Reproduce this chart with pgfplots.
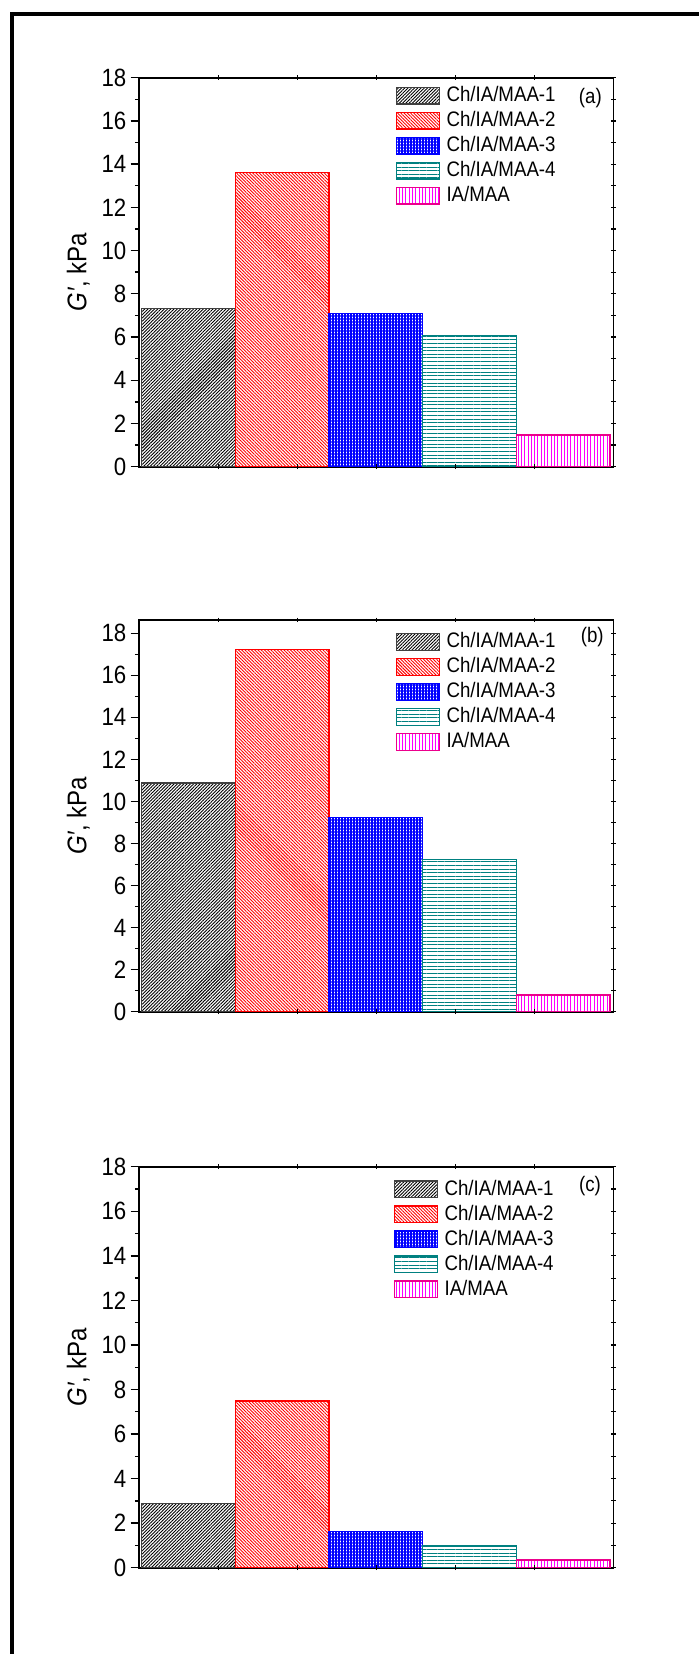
\documentclass[border=0pt]{standalone}
\usepackage{fontspec}
\setmainfont{Liberation Sans}[FakeStretch=0.89]
\usepackage{pgfplots}
\pgfplotsset{compat=1.18}
\usetikzlibrary{patterns.meta}
\definecolor{tealc}{RGB}{0,128,128}
\definecolor{edgegray}{RGB}{64,64,64}
\newcommand\tickfont{\fontsize{12.5}{14}\selectfont}
\newcommand\legfont{\fontsize{10.5}{12}\selectfont}
\newcommand\labfont{\fontsize{13.5}{15}\selectfont}
\pgfplotsset{
 mainax/.style={
  scale only axis, width=237.3pt, xmin=0, xmax=6, ymin=0,
  xtick=\empty, ytick={0,2,...,18}, minor y tick num=1, ytick pos=left,
  tick align=outside, major tick length=4.15pt, minor tick length=2pt,
  tick style={black, line width=0.7pt},
  axis line style={line width=0.9pt, black},
  /pgf/number format/assume math mode=true,
  yticklabel style={font=\tickfont, inner sep=0pt, anchor=east, xshift=-2pt},
  ylabel={\textit{G′}, kPa},
  ylabel style={font=\labfont, at={(axis description cs:-0.128,0.5)}, anchor=center},
  ybar, bar width=1.184, bar shift=0pt,
  legend cell align=left,
  legend image code/.code={\draw[##1] (0pt,-4.175pt) rectangle (21.35pt,4.175pt);},
  legend style={draw=none, fill=none, inner sep=0pt, outer sep=0pt, row sep=3.5pt, column sep=0pt, anchor=north west, font=\legfont, nodes={inner xsep=3.35pt, inner ysep=0pt, text height=7.2pt, text depth=1.3pt}},
 },
 ovax/.style={scale only axis, width=237.3pt, xmin=0, xmax=6, ymin=0,
  axis line style={draw=none}, xtick={1,...,5}, xticklabels={}, xtick pos=both,
  ytick={0,...,18}, yticklabels={}, ytick pos=right, tick align=center,
  major tick length=2.4pt, tick style={black, line width=0.6pt}},
 s1/.style={draw=edgegray, line width=0.65pt, pattern={Lines[angle=45,distance=1.15pt,line width=0.45pt]}, pattern color=black},
 s2/.style={draw=red, line width=0.65pt, pattern={Lines[angle=-45,distance=1.15pt,line width=0.45pt]}, pattern color=red},
 s3/.style={draw=blue, line width=0.65pt, pattern={Hatch[distance=1.5pt,line width=0.75pt]}, pattern color=blue},
 s4/.style={draw=tealc, line width=0.65pt, pattern={Lines[angle=0,distance=1.8pt,line width=0.5pt]}, pattern color=tealc},
 s5/.style={draw=magenta, line width=0.65pt, pattern={Lines[angle=90,distance=1.65pt,line width=0.45pt]}, pattern color=magenta},
}
\begin{document}
\begin{tikzpicture}
\useasboundingbox (0,0) rectangle (349.5pt,827pt);
\draw[line width=2.2pt, black] (6pt,-10pt) -- (6pt,820.1pt) -- (360pt,820.1pt);
% (a)
\begin{axis}[mainax, at={(69.5pt,593.65pt)}, anchor=south west, height=194.5pt, ymax=18,
  legend style={at={(axis description cs:0.5412,0.977)}}]
\addplot[s1] coordinates {(0.627,7.33)};
\addplot[s2] coordinates {(1.811,13.6)};
\addplot[s3] coordinates {(2.995,7.10)};
\addplot[s4] coordinates {(4.179,6.06)};
\addplot[s5] coordinates {(5.363,1.47)};
\legend{Ch/IA/MAA-1,Ch/IA/MAA-2,Ch/IA/MAA-3,Ch/IA/MAA-4,IA/MAA}
\node[font=\legfont, anchor=east, inner sep=0pt] at (axis description cs:0.976,0.947) {(a)};
\end{axis}
\begin{axis}[ovax, at={(69.5pt,593.65pt)}, anchor=south west, height=194.5pt, ymax=18]
\end{axis}
% (b)
\begin{axis}[mainax, at={(69.5pt,321.15pt)}, anchor=south west, height=195.85pt, ymax=18.63,
  legend style={at={(axis description cs:0.5412,0.967)}}]
\addplot[s1] coordinates {(0.627,10.87)};
\addplot[s2] coordinates {(1.811,17.24)};
\addplot[s3] coordinates {(2.995,9.24)};
\addplot[s4] coordinates {(4.179,7.24)};
\addplot[s5] coordinates {(5.363,0.79)};
\legend{Ch/IA/MAA-1,Ch/IA/MAA-2,Ch/IA/MAA-3,Ch/IA/MAA-4,IA/MAA}
\node[font=\legfont, anchor=east, inner sep=0pt] at (axis description cs:0.980,0.957) {(b)};
\end{axis}
\begin{axis}[ovax, at={(69.5pt,321.15pt)}, anchor=south west, height=195.85pt, ymax=18.63]
\end{axis}
% (c)
\begin{axis}[mainax, at={(69.5pt,43.15pt)}, anchor=south west, height=200.45pt, ymax=18,
  legend style={at={(axis description cs:0.537,0.966)}}]
\addplot[s1] coordinates {(0.627,2.87)};
\addplot[s2] coordinates {(1.811,7.49)};
\addplot[s3] coordinates {(2.995,1.63)};
\addplot[s4] coordinates {(4.179,0.97)};
\addplot[s5] coordinates {(5.363,0.35)};
\legend{Ch/IA/MAA-1,Ch/IA/MAA-2,Ch/IA/MAA-3,Ch/IA/MAA-4,IA/MAA}
\node[font=\legfont, anchor=east, inner sep=0pt] at (axis description cs:0.974,0.952) {(c)};
\end{axis}
\begin{axis}[ovax, at={(69.5pt,43.15pt)}, anchor=south west, height=200.45pt, ymax=18]
\end{axis}
\end{tikzpicture}
\end{document}
